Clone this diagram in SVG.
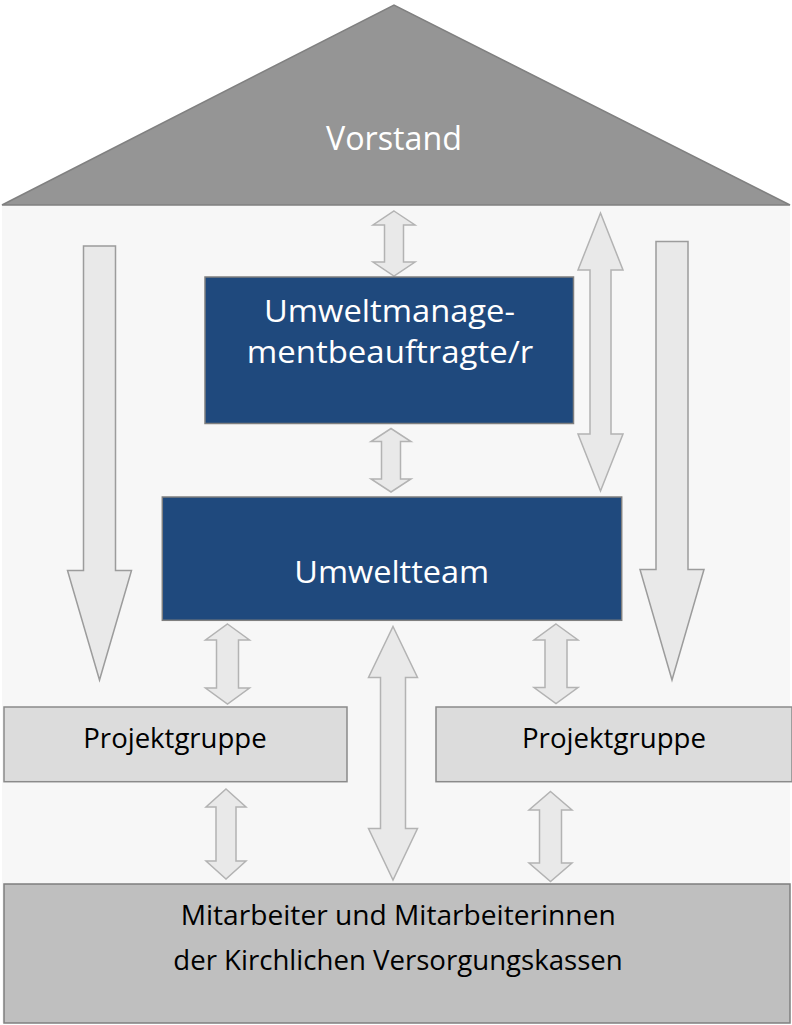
<svg xmlns="http://www.w3.org/2000/svg" width="792" height="1025" viewBox="0 0 792 1025">
<style>
.t{font-family:"Open Sans","Noto Sans","Liberation Sans",sans-serif;text-anchor:middle}
.w{fill:#ffffff}
.k{fill:#000000}
.blue{fill:#1f497d;stroke:#7f7f7f;stroke-width:1.5}
.pg{fill:#dcdcdc;stroke:#8a8a8a;stroke-width:1.5}
.arS{fill:#e9e9e9;stroke:#b3b3b3;stroke-width:1.5;stroke-linejoin:miter}
.arB{fill:#e9e9e9;stroke:#9c9c9c;stroke-width:1.5;stroke-linejoin:miter}
</style>
<rect width="792" height="1025" fill="#ffffff"/>
<g id="house">
<rect x="2" y="205" width="788" height="818" fill="#f7f7f7"/>
</g>
<g id="vorstand">
<polygon points="2,205 394,5 790,205" fill="#959595" stroke="#808080" stroke-width="1.5"/>
<text class="t w" x="394" y="150" font-size="33" textLength="136" lengthAdjust="spacingAndGlyphs">Vorstand</text>
</g>
<g id="connectors">
<polygon class="arS" points="394,211 415,225 403.5,225 403.5,262 415,262 394,276 373,262 384.5,262 384.5,225 373,225"/>
<polygon class="arS" points="391,428.5 411,441.5 400.5,441.5 400.5,479 411,479 391,492 371,479 381.5,479 381.5,441.5 371,441.5"/>
<polygon class="arS" points="227.5,624 249.5,640 238.5,640 238.5,688 249.5,688 227.5,704 205.5,688 216.5,688 216.5,640 205.5,640"/>
<polygon class="arS" points="556,624 578,640 567,640 567,687.5 578,687.5 556,703.5 534,687.5 545,687.5 545,640 534,640"/>
<polygon class="arS" points="393,626.5 417.5,677.5 405.5,677.5 405.5,828.5 417.5,828.5 393,880 368.5,828.5 380.5,828.5 380.5,677.5 368.5,677.5"/>
<polygon class="arS" points="600.5,213 623,270 611,270 611,434 623,434 600.5,491 578,434 590,434 590,270 578,270"/>
<polygon class="arS" points="226,789 246,807 236,807 236,861 246,861 226,879 206,861 216,861 216,807 206,807"/>
<polygon class="arS" points="550.5,791.5 572,810 561.5,810 561.5,863 572,863 550.5,881.5 529,863 539.5,863 539.5,810 529,810"/>
<polygon class="arB" points="83.5,246 115.5,246 115.5,570.5 131.5,570.5 99.5,680 67.5,570.5 83.5,570.5"/>
<polygon class="arB" points="656,241.5 688,241.5 688,569.5 704,569.5 672,680 640,569.5 656,569.5"/>
</g>
<g id="umb">
<rect class="blue" x="205" y="277" width="368.5" height="146.5"/>
<text class="t w" x="389.5" y="321.7" font-size="31" textLength="251" lengthAdjust="spacingAndGlyphs">Umweltmanage-</text>
<text class="t w" x="390" y="363.3" font-size="31" textLength="286.7" lengthAdjust="spacingAndGlyphs">mentbeauftragte/r</text>
</g>
<g id="umweltteam">
<rect class="blue" x="162.3" y="497" width="459.4" height="123.3"/>
<text class="t w" x="391.7" y="583" font-size="31" textLength="195" lengthAdjust="spacingAndGlyphs">Umweltteam</text>
</g>
<g id="pg1">
<rect class="pg" x="4" y="707" width="343" height="74.7"/>
<text class="t k" x="175" y="747.5" font-size="27" textLength="183.4" lengthAdjust="spacingAndGlyphs">Projektgruppe</text>
</g>
<g id="pg2">
<rect class="pg" x="436" y="707" width="356" height="74.7"/>
<text class="t k" x="614" y="747.5" font-size="27" textLength="184" lengthAdjust="spacingAndGlyphs">Projektgruppe</text>
</g>
<g id="mitarbeiter">
<rect x="4" y="884" width="786" height="139" fill="#bfbfbf" stroke="#7f7f7f" stroke-width="1.5"/>
<text class="t k" x="398.2" y="925" font-size="26.5" textLength="435" lengthAdjust="spacingAndGlyphs">Mitarbeiter und Mitarbeiterinnen</text>
<text class="t k" x="398" y="970" font-size="26.5" textLength="449.4" lengthAdjust="spacingAndGlyphs">der Kirchlichen Versorgungskassen</text>
</g>
</svg>
